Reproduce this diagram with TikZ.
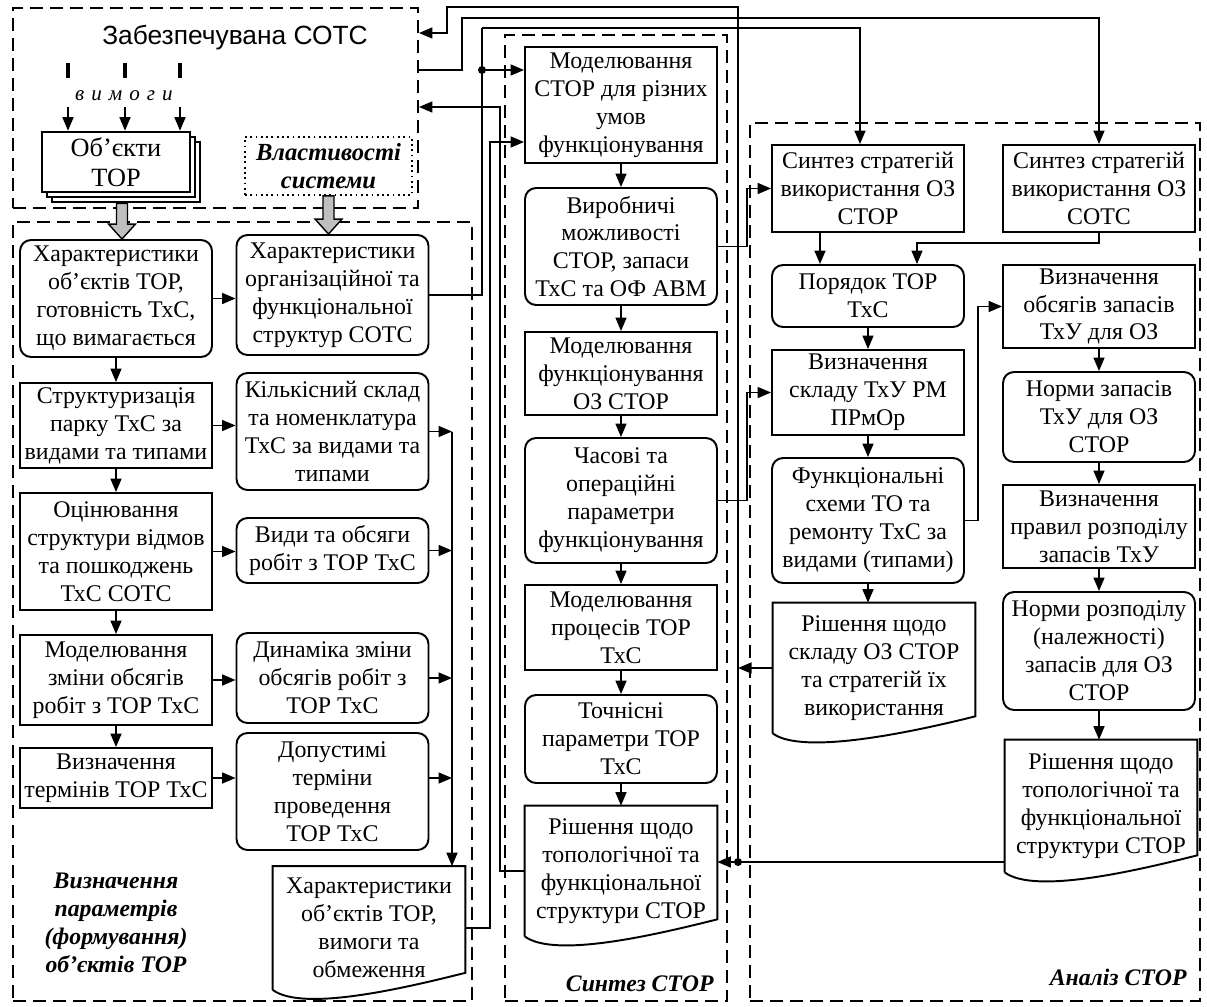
\documentclass[tikz,border=0pt]{standalone}
\usepackage{fontspec}
\setmainfont{Liberation Serif}
\newfontfamily\titlefont{Liberation Sans}
\usepackage{tikz}
\usetikzlibrary{
    positioning,
    arrows.meta,
    calc,
    shadows
}
\newcommand{\boxfont}{\fontsize{13.6}{15.9}\selectfont}
\newcommand{\capfont}{\fontsize{13.5}{15.9}\selectfont\bfseries\itshape}
\tikzset{
    block/.style={
        rectangle, draw, line width=1.1pt,
        minimum width=3.84cm, align=center, inner sep=1pt,
        font=\boxfont
    },
    rblock/.style={
        block, rounded corners=0.22cm
    },
    docblock/.style={
        rectangle, minimum width=3.84cm, align=center, inner sep=1pt,
        font=\boxfont
    },
    zone/.style={
        rectangle, draw, line width=1.1pt,
        dash pattern=on 0.26cm off 0.14cm, inner sep=0pt
    },
    objbox/.style={
        rectangle, draw, fill=white, line width=1.1pt,
        minimum width=2.96cm, minimum height=1.2cm, align=center,
        font=\fontsize{15}{17}\selectfont,
        double copy shadow={shadow xshift=0.1cm, shadow yshift=-0.1cm}
    },
    propbox/.style={
        rectangle, draw, dotted, line width=1pt,
        minimum width=3.34cm, minimum height=1.16cm, align=center,
        font=\fontsize{14}{15.9}\selectfont\bfseries\itshape
    },
    caption/.style={
        font=\capfont, align=center, inner sep=0pt
    },
    arrow/.style={
        -{Triangle[length=0.27cm, width=0.22cm]}, line width=0.9pt
    },
    wire/.style={
        line width=0.9pt
    }
}
% document symbol drawn round a node
\newcommand{\docshape}[1]{%
  \draw[line width=1.1pt] (#1.south west) -- (#1.north west) -- (#1.north east)
    -- ([yshift=0.34cm]#1.south east)
    .. controls +(-1.2cm,-0.3cm) and +(0.6cm,-0.45cm) .. (#1.south west);}
% wide grey arrow pointing down
\newcommand{\grayarrow}[2]{%
  \filldraw[fill=gray!50, draw=black, line width=0.8pt]
    ($(#1)+(-0.11cm,0cm)$) -- ($(#2)+(-0.11cm,0.3cm)$) -- ($(#2)+(-0.27cm,0.3cm)$) -- (#2)
    -- ($(#2)+(0.27cm,0.3cm)$) -- ($(#2)+(0.11cm,0.3cm)$) -- ($(#1)+(0.11cm,0cm)$) -- cycle;}

\begin{document}
\begin{tikzpicture}[x=0.02cm, y=-0.02cm,
    stub/.style={line width=2pt},
    dot/.style={circle, fill, inner sep=0pt, minimum size=0.16cm}
  ]
    \useasboundingbox (0,0) rectangle (1207,1007);

    % dashed areas
    \node[zone, minimum width=8.10cm, minimum height=4.00cm] (zTop) at (215.5,108) {};
    \node[zone, minimum width=9.18cm, minimum height=15.58cm] (zLeft) at (242.5,611.5) {};
    \node[zone, minimum width=4.44cm, minimum height=19.32cm] (zMid) at (616,518) {};
    \node[zone, minimum width=9.00cm, minimum height=17.56cm] (zRight) at (975,562) {};

    % supported system
    \node[font=\titlefont\fontsize{15}{18}\selectfont] (title) at (235,38) {Забезпечувана СОТС};
    \node[font=\fontsize{12}{14}\selectfont\itshape] (req) at (124,96) {в\,\,и\,\,м\,\,о\,\,г\,\,и};
    \node[objbox] (obj) at (116,162) {Об’єкти\\ТОР};
    \node[propbox] (prop) at (328.5,166) {Властивості\\системи};

    % left part
    \node[rblock, minimum height=2.34cm] (c1) at (116,298.5) {Характеристики\\об’єктів ТОР,\\готовність ТхС,\\що вимагається};
    \node[block, minimum height=1.70cm] (c2) at (116,425.5) {Структуризація\\парку ТхС за\\видами та типами};
    \node[block, minimum height=2.34cm] (c3) at (116,551.5) {Оцінювання\\структури відмов\\та пошкоджень\\ТхС СОТС};
    \node[block, minimum height=1.80cm] (c4) at (116,680) {Моделювання\\зміни обсягів\\робіт з ТОР ТхС};
    \node[block, minimum height=1.20cm] (c5) at (116,778) {Визначення\\термінів ТОР ТхС};

    \node[rblock, minimum height=2.40cm] (d1) at (332.5,295) {Характеристики\\організаційної та\\функціональної\\структур СОТС};
    \node[rblock, minimum height=2.34cm] (d2) at (332.5,431.5) {Кількісний склад\\та номенклатура\\ТхС за видами та\\типами};
    \node[rblock, minimum height=1.30cm] (d3) at (332.5,550.5) {Види та обсяги\\робіт з ТОР ТхС};
    \node[rblock, minimum height=1.80cm] (d4) at (332.5,678) {Динаміка зміни\\обсягів робіт з\\ТОР ТхС};
    \node[rblock, minimum height=2.34cm] (d5) at (332.5,791.5) {Допустимі\\терміни\\проведення\\ТОР ТхС};
    \node[docblock, minimum height=2.46cm] (docL) at (369,928) {Характеристики\\об’єктів ТОР,\\вимоги та\\обмеження};
    \docshape{docL}

    \node[caption] (capL) at (116,923) {Визначення\\параметрів\\(формування)\\об’єктів ТОР};

    % synthesis
    \node[block, minimum height=2.32cm] (m1) at (621,105) {Моделювання\\СТОР для різних\\умов\\функціонування};
    \node[rblock, minimum height=2.34cm] (m2) at (621,246.5) {Виробничі\\можливості\\СТОР, запаси\\ТхС та ОФ АВМ};
    \node[block, minimum height=1.66cm] (m3) at (621,373.5) {Моделювання\\функціонування\\ОЗ СТОР};
    \node[rblock, minimum height=2.50cm] (m4) at (621,500.5) {Часові та\\операційні\\параметри\\функціонування};
    \node[block, minimum height=1.70cm] (m5) at (621,627.5) {Моделювання\\процесів ТОР\\ТхС};
    \node[rblock, minimum height=1.76cm] (m6) at (621,739) {Точнісні\\параметри ТОР\\ТхС};
    \node[docblock, minimum height=2.60cm] (m7) at (621,871) {Рішення щодо\\топологічної та\\функціональної\\структури СТОР};
    \docshape{m7}

    \node[caption, above left=0.2cm and 0.28cm of zMid.south east] (capM) {Синтез СТОР};

    % analysis
    \node[block, minimum height=1.74cm] (a1) at (868,188.5) {Синтез стратегій\\використання ОЗ\\СТОР};
    \node[rblock, minimum height=1.24cm] (a2) at (868,296) {Порядок ТОР\\ТхС};
    \node[block, minimum height=1.70cm] (a3) at (868,392.5) {Визначення\\складу ТхУ РМ\\ПРмОр};
    \node[rblock, minimum height=2.50cm] (a4) at (868,520.5) {Функціональні\\схеми ТО та\\ремонту ТхС за\\видами (типами)};
    \node[docblock, minimum width=4.04cm, minimum height=2.60cm] (a5) at (874,668) {Рішення щодо\\складу ОЗ СТОР\\та стратегій їх\\використання};
    \docshape{a5}

    \node[block, minimum height=1.74cm] (b1) at (1099,188.5) {Синтез стратегій\\використання ОЗ\\СОТС};
    \node[block, minimum height=1.66cm] (b2) at (1099,306.5) {Визначення\\обсягів запасів\\ТхУ для ОЗ};
    \node[rblock, minimum height=1.80cm] (b3) at (1099,417) {Норми запасів\\ТхУ для ОЗ\\СТОР};
    \node[block, minimum height=1.66cm] (b4) at (1099,526.5) {Визначення\\правил розподілу\\запасів ТхУ};
    \node[rblock, minimum height=2.36cm] (b5) at (1099,651) {Норми розподілу\\(належності)\\запасів для ОЗ\\СТОР};
    \node[docblock, minimum height=2.64cm] (b6) at (1101,806) {Рішення щодо\\топологічної та\\функціональної\\структури СТОР};
    \docshape{b6}

    \node[caption, above left=0.32cm and 0.28cm of zRight.south east] (capR) {Аналіз СТОР};

    % bends of the long lines
    \coordinate (bus) at (452,0);
    \coordinate (j1) at (482,28);
    \coordinate (j2) at (482,70);
    \coordinate (k1) at (462,18);
    \coordinate (p1) at (738,862);
    \coordinate (p2) at (447,7);
    \coordinate (p3) at (447,33);
    \coordinate (r1) at (500,107);
    \coordinate (s1) at (490,142);
    \coordinate (t1) at (747,0);
    \coordinate (u1) at (978,0);

    % requirements
    \foreach \x in {68,125,180} {
        \draw[stub] (\x,63) -- (\x,78);
        \draw[arrow] (\x,0 |- req.south) -- (\x,0 |- obj.north);
    }
    \coordinate (g1) at ([xshift=0.12cm, yshift=-0.2cm]obj.south);
    \grayarrow{g1}{g1 |- c1.north}
    \grayarrow{prop.south}{prop.south |- d1.north}

    % left part
    \draw[arrow] (c1.south) -- (c2.north);
    \draw[arrow] (c2.south) -- (c3.north);
    \draw[arrow] (c3.south) -- (c4.north);
    \draw[arrow] (c4.south) -- (c5.north);
    \draw[arrow] (c1.east) -- (c1.east -| d1.west);
    \draw[arrow] (c2.east) -- (c2.east -| d2.west);
    \draw[arrow] (c3.east) -- (c3.east -| d3.west);
    \draw[arrow] (c4.east) -- (c4.east -| d4.west);
    \draw[arrow] (c5.east) -- (c5.east -| d5.west);
    \draw[arrow] (d2.east) -- (d2.east -| bus);
    \draw[arrow] (d3.east) -- (d3.east -| bus);
    \draw[arrow] (d4.east) -- (d4.east -| bus);
    \draw[arrow] (d5.east |- c5.east) -- (bus |- c5.east);
    \draw[arrow] (bus |- d2.east) -- (bus |- docL.north);

    % links between the areas
    \draw[wire] (d1.east) -| (j1);
    \draw[arrow] (j1) -| ([xshift=-0.16cm]a1.north);
    \node[dot] (dj2) at (j2) {};
    \draw[arrow] (dj2) -- (j2 -| m1.west);
    \draw[arrow] (zTop.east |- j2) -| (k1) -| (b1.north);
    \draw[arrow] (m7.west) -| (r1) -- (r1 -| zTop.east);
    \draw[arrow] (docL.east) -| (s1) -- (s1 -| m1.west);
    \draw[arrow] (b6.west |- p1) -- (m7.east |- p1);
    \node[dot] (dp1) at (p1) {};
    \draw[arrow] (dp1) |- (p2) -- (p3) -- (p3 -| zTop.east);
    \draw[arrow] (a5.west) -- (a5.west -| p1);

    % synthesis
    \draw[arrow] (m1.south) -- (m2.north);
    \draw[arrow] (m2.south) -- (m3.north);
    \draw[arrow] (m3.south) -- (m4.north);
    \draw[arrow] (m4.south) -- (m5.north);
    \draw[arrow] (m5.south) -- (m6.north);
    \draw[arrow] (m6.south) -- (m7.north);
    \draw[arrow] (m2.east) -- (m2.east -| t1) |- (a1.west);
    \draw[arrow] (m4.east) -- (m4.east -| t1) |- (a3.west);

    % analysis
    \draw[arrow] ([xshift=-0.96cm]a1.south) -- ([xshift=-0.96cm]a2.north);
    \draw[arrow] (b1.south) -- ++(0,10) -| ([xshift=0.98cm]a2.north);
    \draw[arrow] (a2.south) -- (a3.north);
    \draw[arrow] (a3.south) -- (a4.north);
    \draw[arrow] (a4.south) -- (a4.south |- a5.north);
    \draw[arrow] (a4.east) -- (a4.east -| u1) |- (b2.west);
    \draw[arrow] (b2.south) -- (b3.north);
    \draw[arrow] (b3.south) -- (b4.north);
    \draw[arrow] (b4.south) -- (b5.north);
    \draw[arrow] (b5.south) -- (b5.south |- b6.north);

\end{tikzpicture}
\end{document}
